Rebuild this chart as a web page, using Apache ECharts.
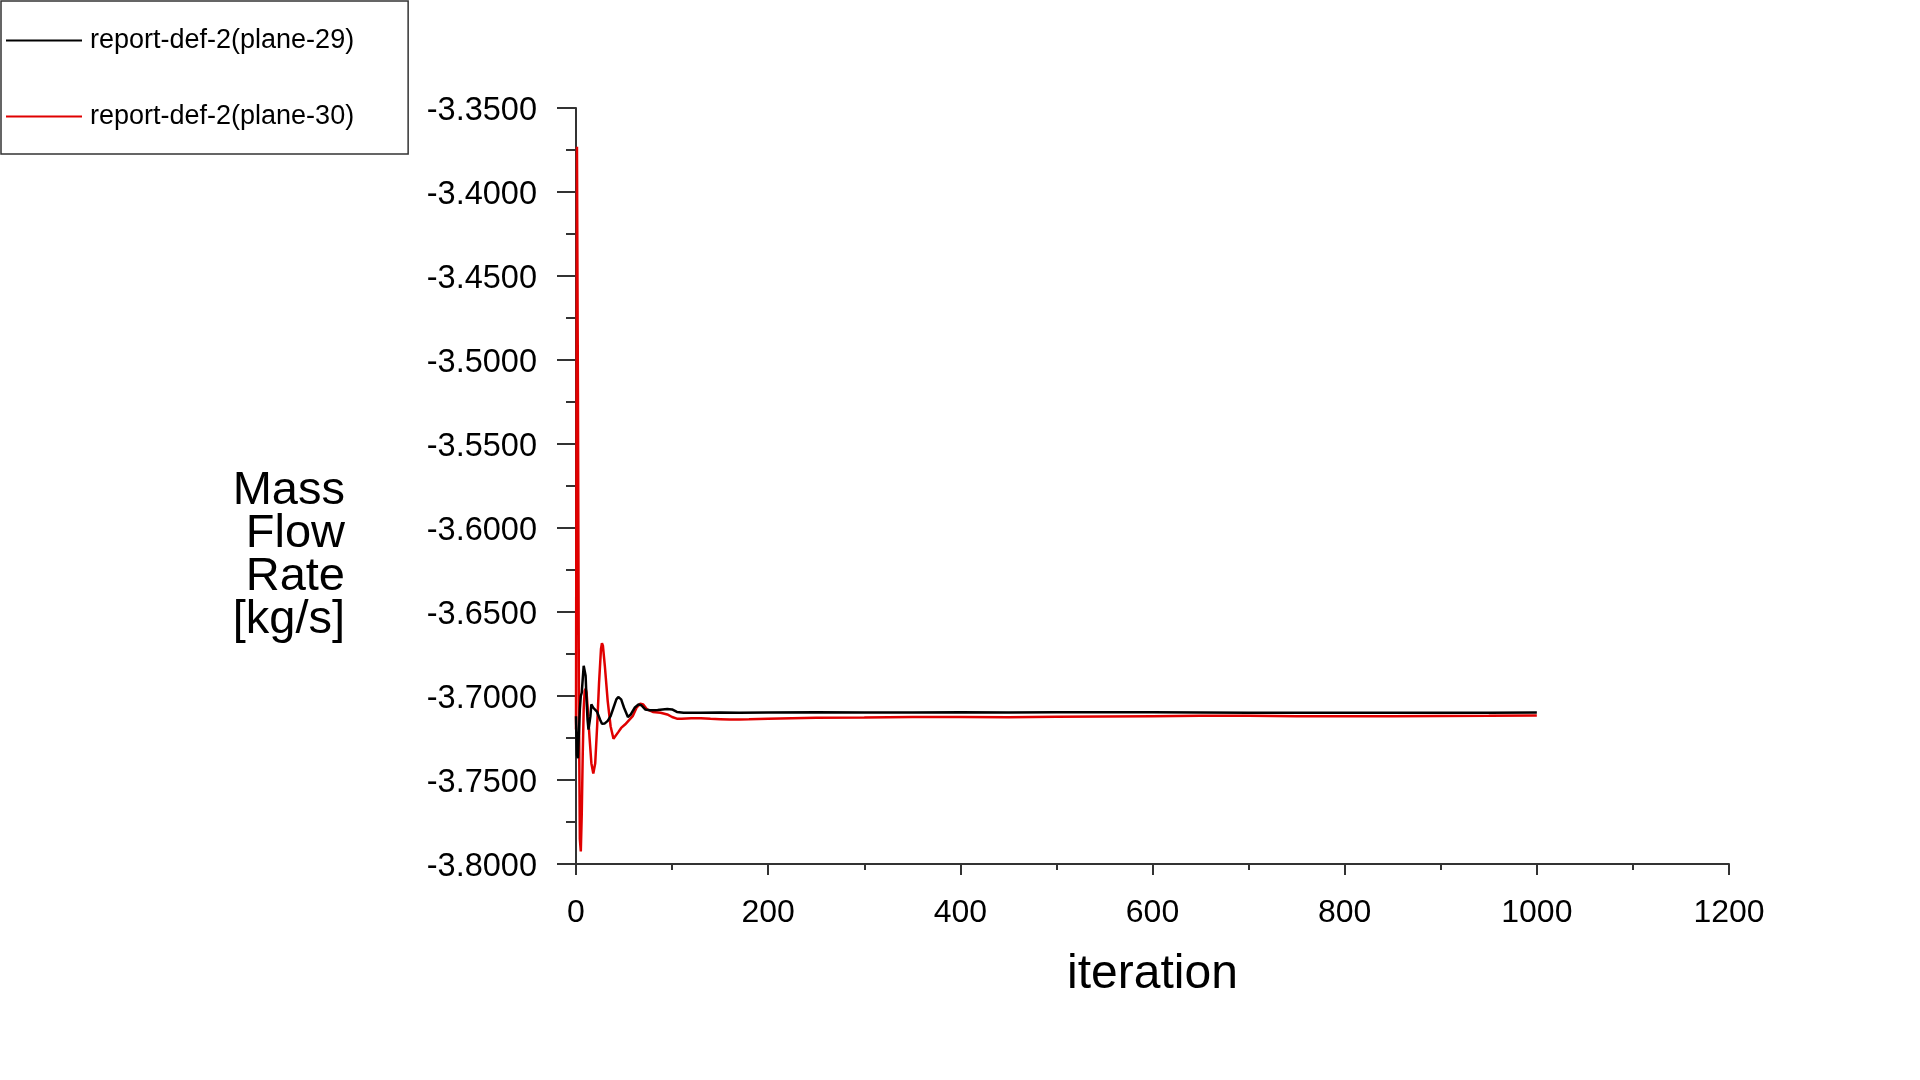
<!DOCTYPE html>
<html>
<head>
<meta charset="utf-8">
<script src="https://cdn.jsdelivr.net/npm/echarts@6/dist/echarts.min.js"></script>
<style>
html,body{margin:0;padding:0;background:#fff;}
#chart{width:1920px;height:1080px;}
</style>
</head>
<body>
<div id="chart"></div>
<script>
// ---- data ----
const seriesNames = ['report-def-2(plane-29)', 'report-def-2(plane-30)'];

const iter29 = [0,1,2,3,4,5,6,7,8,9,10,11,12,13,14,15,16,17,18,20,22,25,27,30,33,36,39,42,44,47,50,54,57,61,65,68,72,77,85,95,100,105,112,130,150,170,200,250,300,350,400,450,500,550,600,650,700,750,800,850,900,950,1000];
const val29 = [-3.712,-3.735,-3.737,-3.722,-3.708,-3.700,-3.698,-3.690,-3.682,-3.681,-3.688,-3.702,-3.714,-3.720,-3.7205,-3.712,-3.705,-3.705,-3.707,-3.708,-3.7095,-3.714,-3.7165,-3.7163,-3.7148,-3.712,-3.707,-3.702,-3.7006,-3.702,-3.707,-3.7125,-3.711,-3.707,-3.705,-3.7055,-3.708,-3.7085,-3.7083,-3.7078,-3.708,-3.7095,-3.710,-3.7100,-3.7098,-3.7100,-3.7098,-3.7097,-3.7098,-3.7098,-3.7097,-3.7098,-3.7097,-3.7096,-3.7097,-3.7098,-3.7099,-3.7099,-3.7100,-3.7100,-3.7100,-3.7099,-3.7098];

const iter30 = [0,1,2,3,4,5,6,7,8,9,10,11,12,14,16,18,20,22,24,26,27,28,30,33,36,39,41,44,47,51,55,59,63,67,70,74,80,88,95,100,105,110,120,130,140,150,160,170,180,200,250,300,350,400,450,500,550,600,650,700,750,800,850,900,950,1000];
const val30 = [-3.720,-3.373,-3.520,-3.700,-3.785,-3.7925,-3.770,-3.735,-3.708,-3.697,-3.6956,-3.698,-3.706,-3.724,-3.740,-3.7462,-3.740,-3.718,-3.692,-3.672,-3.6685,-3.670,-3.682,-3.703,-3.718,-3.7255,-3.726,-3.7215,-3.719,-3.717,-3.7145,-3.712,-3.707,-3.7046,-3.705,-3.708,-3.7095,-3.7100,-3.711,-3.7125,-3.7135,-3.7135,-3.7132,-3.7133,-3.7136,-3.7138,-3.7140,-3.7140,-3.7139,-3.7135,-3.7130,-3.7128,-3.7125,-3.7125,-3.7127,-3.7124,-3.7122,-3.7120,-3.7118,-3.7118,-3.7120,-3.7120,-3.7120,-3.7119,-3.7118,-3.7116];

const xTicks = {min: 0, max: 1200, interval: 200};
const yTicks = {min: -3.80, max: -3.35, interval: 0.05};

const xTitle = 'iteration';
const yTitleLines = ['Mass', 'Flow', 'Rate', '[kg/s]'];

// ---- chart ----
const pair = (xs, ys) => xs.map((x, i) => [x, ys[i]]);
const FONT = '"Liberation Sans", Arial, sans-serif';
const AXIS_COLOR = '#333';

const yTitleGraphics = yTitleLines.map((t, i) => ({
  type: 'text',
  x: 345,
  y: 491 + i * 43,
  style: {
    text: t,
    font: '47px ' + FONT,
    fill: '#000',
    align: 'right',
    verticalAlign: 'middle'
  }
}));

const chart = echarts.init(document.getElementById('chart'), null, {renderer: 'canvas'});
chart.setOption({
  animation: false,
  backgroundColor: '#fff',
  textStyle: {fontFamily: FONT, color: '#000'},
  grid: {left: 576, right: 191, top: 108, bottom: 216, containLabel: false},
  legend: {
    left: 1, top: 1,
    orient: 'vertical',
    icon: 'rect',
    itemWidth: 76, itemHeight: 2,
    itemGap: 49,
    padding: [26, 54, 24, 5],
    borderColor: '#333', borderWidth: 1.5,
    textStyle: {fontFamily: FONT, fontSize: 27, color: '#000', padding: [0, 0, 0, 3]},
    data: seriesNames
  },
  xAxis: {
    type: 'value',
    min: xTicks.min, max: xTicks.max, interval: xTicks.interval,
    name: xTitle, nameLocation: 'middle', nameGap: 87,
    nameTextStyle: {fontFamily: FONT, fontSize: 48, color: '#000'},
    axisLine: {show: true, onZero: false, lineStyle: {color: AXIS_COLOR, width: 2}},
    axisTick: {show: true, inside: false, length: 11, lineStyle: {color: AXIS_COLOR, width: 2}},
    minorTick: {show: true, splitNumber: 2, length: 6, lineStyle: {color: AXIS_COLOR, width: 2}},
    axisLabel: {fontFamily: FONT, fontSize: 32, color: '#000', margin: 33,
      formatter: v => String(Math.round(v))},
    splitLine: {show: false}
  },
  yAxis: {
    type: 'value',
    min: yTicks.min, max: yTicks.max, interval: yTicks.interval,
    axisLine: {show: true, onZero: false, lineStyle: {color: AXIS_COLOR, width: 2}},
    axisTick: {show: true, inside: false, length: 19, lineStyle: {color: AXIS_COLOR, width: 2}},
    minorTick: {show: true, splitNumber: 2, length: 10, lineStyle: {color: AXIS_COLOR, width: 2}},
    axisLabel: {fontFamily: FONT, fontSize: 32.5, color: '#000', margin: 39,
      formatter: v => '{a|' + v.toFixed(4) + '}',
      rich: {a: {fontFamily: FONT, fontSize: 32.5, color: '#000', padding: [6, 0, 0, 0]}}},
    splitLine: {show: false}
  },
  graphic: yTitleGraphics,
  series: [
    {name: seriesNames[0], type: 'line', showSymbol: false, symbol: 'none',
     data: pair(iter29, val29), lineStyle: {color: '#000', width: 2.5}, itemStyle: {color: '#000'}, z: 3},
    {name: seriesNames[1], type: 'line', showSymbol: false, symbol: 'none',
     data: pair(iter30, val30), lineStyle: {color: '#e00000', width: 2.5}, itemStyle: {color: '#e00000'}, z: 2}
  ]
});
</script>
</body>
</html>
